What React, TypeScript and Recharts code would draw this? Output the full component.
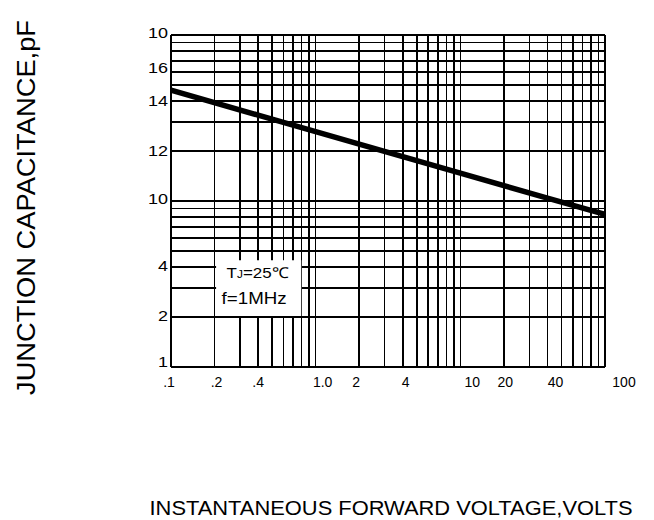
import React from 'react';
import { LineChart, Line, XAxis, YAxis, CartesianGrid, ReferenceArea, Label } from 'recharts';

// forward voltage (V) vs junction capacitance (pF)
const voltage = [0.1, 0.4, 1, 4, 10, 40, 100];
const capacitance = [46.5, 32.9, 26.2, 18.5, 14.7, 10.4, 8.3];

const xTicks = [0.1, 0.2, 0.4, 1, 2, 4, 10, 20, 40, 100];
const xTickLabels = ['.1', '.2', '.4', '1.0', '2', '4', '10', '20', '40', '100'];
const yTicks = [1, 2, 4, 10, 20, 40, 60, 100];
const yTickLabels = ['1', '2', '4', '10', '12', '14', '16', '10'];

const xGrid = [
    0.1, 0.2, 0.3, 0.4, 0.5, 0.6, 0.7, 0.8, 0.9,
    1, 2, 3, 4, 5, 6, 7, 8, 9,
    10, 20, 30, 40, 50, 60, 70, 80, 90, 100,
];
const yGrid = [1, 2, 3, 4, 5, 6, 7, 8, 9, 10, 20, 30, 40, 50, 60, 70, 80, 90, 100];

const data = voltage.map((v, i) => ({ v, c: capacitance[i] }));

const FONT = '"Liberation Sans", Arial, sans-serif';

// the labels in the original sheet sit a little off their grid lines
const xLabelShift = [-2, 2, 0, 7, -3, 3, 12, 1.5, 8, 19];
const yLabelShift = [-5, -1, -1, -2.5, 0, 0, -4, -2.5];

const XTick = (props: any) => {
    const { x, y, payload } = props;
    const i = xTicks.indexOf(payload.value);
    if (i < 0) return null;
    return (
        <text x={x + xLabelShift[i]} y={y + 20} textAnchor="middle" fontSize={14} fontFamily={FONT} fill="#000">
            {xTickLabels[i]}
        </text>
    );
};

const YTick = (props: any) => {
    const { x, y, payload } = props;
    const i = yTicks.indexOf(payload.value);
    if (i < 0) return null;
    const label = yTickLabels[i];
    return (
        <text
            x={x}
            y={y + 5 + yLabelShift[i]}
            textAnchor="end"
            fontSize={14}
            fontFamily={FONT}
            fill="#000"
            textLength={label.length * 10}
            lengthAdjust="spacingAndGlyphs"
        >
            {label}
        </text>
    );
};

const NoteText = (props: any) => {
    const { x, y } = props.viewBox;
    return (
        <g fontFamily={FONT} fill="#000">
            <text x={x + 10.5} y={y + 17.5} fontSize={15} textLength={62} lengthAdjust="spacingAndGlyphs">
                T<tspan fontSize={10.5}>J</tspan>=25℃
            </text>
            <text x={x + 5.5} y={y + 43.3} fontSize={16} textLength={65} lengthAdjust="spacingAndGlyphs">
                f=1MHz
            </text>
        </g>
    );
};

const XTitle = (props: any) => {
    const { x, y, width } = props.viewBox;
    return (
        <text
            x={x + width / 2 + 3}
            y={y + 148}
            textAnchor="middle"
            fontSize={20}
            fontFamily={FONT}
            fill="#000"
            textLength={483}
            lengthAdjust="spacingAndGlyphs"
        >
            INSTANTANEOUS FORWARD VOLTAGE,VOLTS
        </text>
    );
};

const YTitle = (props: any) => {
    const { y, height } = props.viewBox;
    const cx = 35;
    const cy = y + height / 2 + 6.5;
    return (
        <text
            x={cx}
            y={cy}
            transform={`rotate(-90, ${cx}, ${cy})`}
            textAnchor="middle"
            fontSize={25}
            fontFamily={FONT}
            fill="#000"
            textLength={375}
            lengthAdjust="spacingAndGlyphs"
        >
            JUNCTION CAPACITANCE,pF
        </text>
    );
};

const App: React.FC = () => {
    return (
        <div style={{ position: 'absolute', left: 0, top: 0, width: 654, height: 520, background: '#fff' }}>
            <LineChart width={654} height={520} data={data} margin={{ top: 35, right: 49, bottom: 123, left: 11 }}>
                <CartesianGrid
                    stroke="#000"
                    strokeWidth={1.6}
                    shapeRendering="crispEdges"
                    horizontalValues={yGrid}
                    verticalValues={xGrid}
                    syncWithTicks
                />
                <XAxis
                    dataKey="v"
                    type="number"
                    scale="log"
                    domain={[0.1, 100]}
                    allowDataOverflow
                    ticks={xTicks}
                    interval={0}
                    height={30}
                    tickSize={0}
                    tickMargin={0}
                    axisLine={false}
                    tickLine={false}
                    tick={<XTick />}
                >
                    <Label content={<XTitle />} />
                </XAxis>
                <YAxis
                    type="number"
                    scale="log"
                    domain={[1, 100]}
                    allowDataOverflow
                    ticks={yTicks}
                    interval={0}
                    width={160}
                    tickSize={0}
                    tickMargin={3}
                    axisLine={false}
                    tickLine={false}
                    tick={<YTick />}
                >
                    <Label content={<YTitle />} />
                </YAxis>
                <ReferenceArea
                    x1={0.205}
                    x2={0.795}
                    y1={2.03}
                    y2={4.39}
                    fill="#fff"
                    fillOpacity={1}
                    stroke="none"
                    label={<NoteText />}
                />
                <Line
                    type="linear"
                    dataKey="c"
                    stroke="#000"
                    strokeWidth={5.5}
                    strokeLinecap="round"
                    dot={false}
                    activeDot={false}
                    isAnimationActive={false}
                />
            </LineChart>
        </div>
    );
};

export default App;
